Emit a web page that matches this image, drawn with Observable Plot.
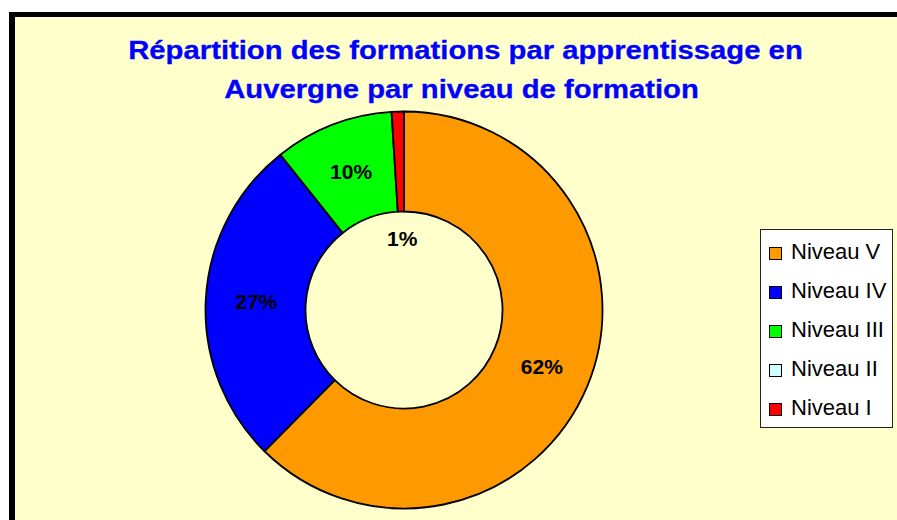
<!DOCTYPE html>
<html><head><meta charset="utf-8">
<script src="https://cdn.jsdelivr.net/npm/d3@7"></script>
<script src="https://cdn.jsdelivr.net/npm/@observablehq/plot@0.6"></script>
<style>
body{margin:0;background:#fff;overflow:hidden;font-family:"Liberation Sans",Arial,sans-serif;}
#wrap{position:relative;width:897px;height:520px;overflow:hidden;}
#frame{position:absolute;left:9px;top:12px;width:1000px;height:1000px;background:#FFFFCC;border-left:6px solid #000;border-top:5px solid #000;}
.title{position:absolute;width:897px;text-align:center;font-weight:bold;font-size:25px;color:#0000FF;line-height:39px;white-space:nowrap;transform-origin:50% 50%;transform:scaleX(1.17);-webkit-text-stroke:0.3px #0000FF;}
#stray{position:absolute;left:222px;top:-16px;font-size:16px;line-height:16px;color:#000;}
#chart{position:absolute;left:0;top:0;}
#legend{position:absolute;left:760px;top:229px;width:131px;height:197px;background:#fff;border:1px solid #222;}
.item{position:absolute;left:8px;height:39px;font-size:22px;line-height:22px;color:#000;white-space:nowrap;}
.sw{position:absolute;left:0;width:11px;height:11px;border:1px solid #000;}
.lab{position:absolute;left:22px;}
</style>
</head><body>
<div id="wrap">
  <div id="stray">p</div>
  <div id="frame"></div>
  <div class="title" style="left:17px;top:31px;">Répartition des formations par apprentissage en</div>
  <div class="title" style="left:13px;top:70px;">Auvergne par niveau de formation</div>
  <div id="chart"></div>
  <div id="legend"></div>
</div>
<script>
// ---- data ----
const categories = ["Niveau V", "Niveau IV", "Niveau III", "Niveau II", "Niveau I"];
const values = [62.4, 26.9, 9.7, 0, 1.0];
const colors = ["#FF9900", "#0000FF", "#00FF00", "#CCFFFF", "#FF0000"];

const data = categories.map((c, i) => ({category: c, value: values[i], color: colors[i]}));

// ---- geometry (style) ----
const cx = 404, cy = 310, R = 198.5;
const INNER = 98.5 / 198.5;

const arcs = d3.pie().sort(null).value(d => d.value)(data);
const labelData = arcs.filter(a => a.data.value > 0).map(a => {
  const mid = (a.startAngle + a.endAngle) / 2;
  const share = a.data.value / d3.sum(values);
  const r = share < 0.02 ? 0.36 : (1 + INNER) / 2;
  return {x: r * Math.sin(mid), y: r * Math.cos(mid), text: Math.round(share * 100) + "%"};
});

const donut = (index, scales) => {
  const x0 = scales.x(0), y0 = scales.y(0), rad = scales.x(1) - scales.x(0);
  const arc = d3.arc().innerRadius(rad * INNER).outerRadius(rad);
  const g = d3.create("svg:g").attr("transform", `translate(${x0},${y0})`);
  g.selectAll("path")
    .data(arcs.filter(a => a.data.value > 0))
    .join("path")
    .attr("d", arc)
    .attr("fill", d => d.data.color)
    .attr("stroke", "#000")
    .attr("stroke-width", 1.8)
    .attr("stroke-linejoin", "round");
  return g.node();
};

const plot = Plot.plot({
  width: 897,
  height: 520,
  margin: 0,
  style: {background: "transparent", fontFamily: "'Liberation Sans', Arial, sans-serif", overflow: "visible"},
  x: {domain: [-1, 1], range: [cx - R, cx + R], axis: null},
  y: {domain: [-1, 1], range: [cy + R, cy - R], axis: null},
  marks: [
    donut,
    Plot.text(labelData, {x: "x", y: "y", text: "text", fontSize: 21, fontWeight: "bold", fill: "#000"})
  ]
});
document.getElementById("chart").appendChild(plot);

// ---- legend ----
const legend = d3.select("#legend");
data.forEach((d, i) => {
  const it = legend.append("div").attr("class", "item").style("top", (9 + i * 39) + "px");
  it.append("div").attr("class", "sw").style("top", "8px").style("background", d.color);
  it.append("div").attr("class", "lab").style("top", "2px").text(d.category);
});
</script>
</body></html>
